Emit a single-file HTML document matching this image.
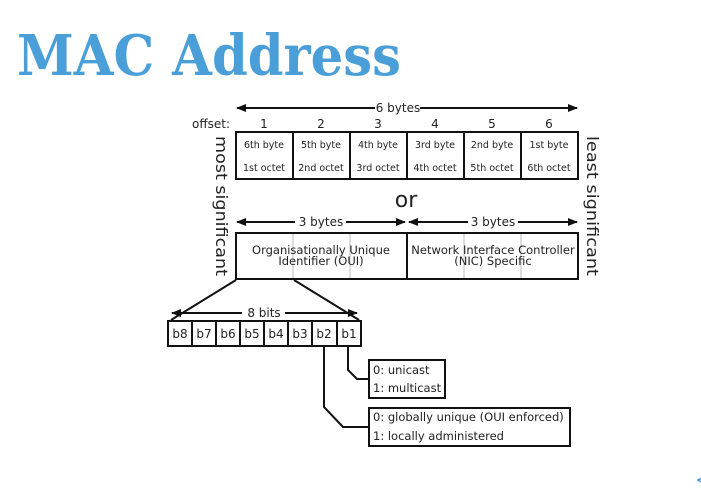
<!DOCTYPE html>
<html><head><meta charset="utf-8"><style>
body{margin:0;background:#fff;width:701px;height:492px;overflow:hidden}
svg{display:block}
text{font-family:"DejaVu Sans","Liberation Sans",sans-serif;fill:#222}
</style></head><body>
<svg width="701" height="492" viewBox="0 0 701 492">
<defs>
<marker id="a" markerWidth="10" markerHeight="8" refX="9" refY="4" orient="auto" markerUnits="userSpaceOnUse"><path d="M0,0 L10,4 L0,8 Z" fill="#111"/></marker>
<marker id="b" markerWidth="10" markerHeight="8" refX="1" refY="4" orient="auto" markerUnits="userSpaceOnUse"><path d="M10,0 L0,4 L10,8 Z" fill="#111"/></marker>
</defs>
<text x="17" y="75" textLength="384" lengthAdjust="spacingAndGlyphs" style="font-family:'DejaVu Serif','Liberation Serif',serif;font-weight:bold;font-size:56px;fill:#4a9fd9">MAC Address</text>
<text x="696" y="484" style="font-size:12px;fill:#3a8fd0;font-weight:bold">&lt;</text>
<g stroke="#111" stroke-width="2" fill="none">
<line x1="237" y1="108" x2="375" y2="108" marker-start="url(#b)"/>
<line x1="420" y1="108" x2="577" y2="108" marker-end="url(#a)"/>
<rect x="236" y="132" width="342" height="47"/>
<line x1="293" y1="132" x2="293" y2="179"/><line x1="350" y1="132" x2="350" y2="179"/><line x1="407" y1="132" x2="407" y2="179"/><line x1="464" y1="132" x2="464" y2="179"/><line x1="521" y1="132" x2="521" y2="179"/>
<line x1="237" y1="222" x2="295" y2="222" marker-start="url(#b)"/>
<line x1="346" y1="222" x2="405" y2="222" marker-end="url(#a)"/>
<line x1="409" y1="222" x2="468" y2="222" marker-start="url(#b)"/>
<line x1="518" y1="222" x2="577" y2="222" marker-end="url(#a)"/>
<rect x="236" y="233" width="342" height="46"/>
<line x1="407" y1="233" x2="407" y2="279"/>
<line x1="236" y1="280" x2="171" y2="320"/><line x1="294" y1="280" x2="359" y2="320"/>
<line x1="172" y1="313" x2="242" y2="313" marker-start="url(#b)"/>
<line x1="285" y1="313" x2="357" y2="313" marker-end="url(#a)"/>
<rect x="168" y="321" width="193" height="25"/>
<line x1="192" y1="321" x2="192" y2="346"/><line x1="216" y1="321" x2="216" y2="346"/><line x1="240" y1="321" x2="240" y2="346"/><line x1="264" y1="321" x2="264" y2="346"/><line x1="288" y1="321" x2="288" y2="346"/><line x1="312" y1="321" x2="312" y2="346"/><line x1="337" y1="321" x2="337" y2="346"/>
<polyline points="348,346 348,370 357,379 369,379"/>
<polyline points="324,346 324,407 343,427 369,427"/>
<rect x="369" y="360" width="76" height="38"/>
<rect x="369" y="408" width="201" height="38"/>
</g>
<g stroke="#bbb" stroke-width="1"><line x1="293" y1="234" x2="293" y2="278"/><line x1="350" y1="234" x2="350" y2="278"/><line x1="464" y1="234" x2="464" y2="278"/><line x1="521" y1="234" x2="521" y2="278"/></g>
<text x="398" y="112" font-size="12" text-anchor="middle">6 bytes</text>
<text x="192" y="128" font-size="12">offset:</text>
<g font-size="12" text-anchor="middle"><text x="264" y="128">1</text><text x="321" y="128">2</text><text x="378" y="128">3</text><text x="435" y="128">4</text><text x="492" y="128">5</text><text x="549" y="128">6</text></g>
<g font-size="9.5" text-anchor="middle">
<text x="264" y="148">6th byte</text><text x="321" y="148">5th byte</text><text x="378" y="148">4th byte</text><text x="435" y="148">3rd byte</text><text x="492" y="148">2nd byte</text><text x="549" y="148">1st byte</text>
<text x="264" y="171">1st octet</text><text x="321" y="171">2nd octet</text><text x="378" y="171">3rd octet</text><text x="435" y="171">4th octet</text><text x="492" y="171">5th octet</text><text x="549" y="171">6th octet</text>
</g>
<text x="406" y="207" font-size="22" text-anchor="middle">or</text>
<text x="321" y="226" font-size="12" text-anchor="middle">3 bytes</text>
<text x="493" y="226" font-size="12" text-anchor="middle">3 bytes</text>
<g font-size="11.5" text-anchor="middle">
<text x="321" y="254">Organisationally Unique</text><text x="321" y="265">Identifier (OUI)</text>
<text x="493" y="254">Network Interface Controller</text><text x="493" y="265">(NIC) Specific</text>
</g>
<text transform="translate(216,136) rotate(90)" font-size="16" textLength="140" lengthAdjust="spacingAndGlyphs">most significant</text>
<text transform="translate(587,136) rotate(90)" font-size="16" textLength="140" lengthAdjust="spacingAndGlyphs">least significant</text>
<text x="264" y="317" font-size="12" text-anchor="middle">8 bits</text>
<g font-size="12" text-anchor="middle"><text x="180" y="338">b8</text><text x="204" y="338">b7</text><text x="228" y="338">b6</text><text x="252" y="338">b5</text><text x="276" y="338">b4</text><text x="300" y="338">b3</text><text x="324" y="338">b2</text><text x="349" y="338">b1</text></g>
<g font-size="11.5"><text x="373" y="374">0: unicast</text><text x="373" y="392">1: multicast</text>
<text x="373" y="421">0: globally unique (OUI enforced)</text><text x="373" y="440">1: locally administered</text></g>
</svg>
</body></html>
